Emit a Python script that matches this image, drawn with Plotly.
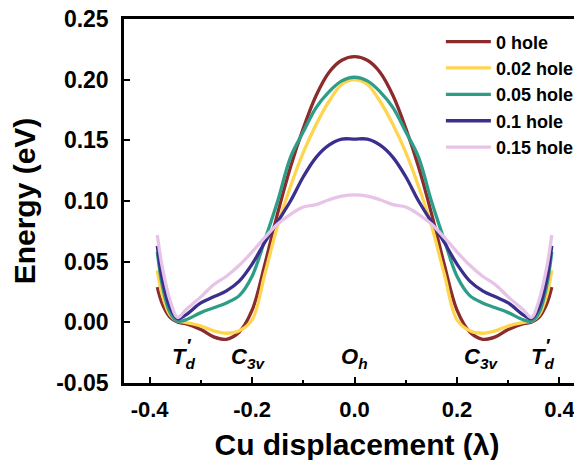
import plotly.graph_objects as go

# x positions (left half, mirrored to the right)
x_half = [-0.385, -0.375, -0.36, -0.345, -0.33, -0.30, -0.275, -0.25, -0.225, -0.20,
          -0.175, -0.15, -0.125, -0.10, -0.075, -0.05, -0.025, 0.0]

e_0 = [0.029, 0.015, 0.004, 0.000, -0.001, -0.006, -0.012, -0.014, -0.008, 0.010,
       0.048, 0.090, 0.128, 0.160, 0.187, 0.206, 0.216, 0.219]
e_002 = [0.043, 0.022, 0.006, 0.001, 0.000, -0.003, -0.007, -0.009, -0.007, 0.002,
         0.040, 0.080, 0.112, 0.140, 0.163, 0.182, 0.196, 0.200]
e_005 = [0.058, 0.030, 0.008, 0.001, 0.002, 0.008, 0.012, 0.016, 0.022, 0.038,
         0.068, 0.100, 0.136, 0.157, 0.177, 0.190, 0.199, 0.202]
e_01 = [0.063, 0.035, 0.012, 0.003, 0.006, 0.016, 0.021, 0.026, 0.034, 0.048,
        0.066, 0.083, 0.100, 0.120, 0.136, 0.146, 0.151, 0.151]
e_015 = [0.072, 0.045, 0.018, 0.004, 0.010, 0.021, 0.031, 0.038, 0.047, 0.058,
         0.070, 0.081, 0.089, 0.095, 0.097, 0.101, 0.104, 0.105]

names = ["0 hole", "0.02 hole", "0.05 hole", "0.1 hole", "0.15 hole"]
colors = ["#8B2C2C", "#FFD44F", "#2E9D88", "#3A2F8C", "#E8C3E8"]
series = [e_0, e_002, e_005, e_01, e_015]

# site labels
site_x = [-0.333, -0.207, 0.0, 0.247, 0.367]
site_main = ["T", "C", "O", "C", "T"]
site_sub = ["d", "3v", "h", "3v", "d"]
site_prime = [True, False, False, False, True]
site_y = -0.029

def full(xs, ys):
    xr = [-v for v in reversed(xs[:-1])]
    yr = list(reversed(ys[:-1]))
    return xs + xr, ys + yr

fig = go.Figure()
for nm, c, ys in zip(names, colors, series):
    xx, yy = full(x_half, ys)
    fig.add_trace(go.Scatter(x=xx, y=yy, mode="lines", name=f"<b>{nm}</b>",
                             line=dict(color=c, width=3.3, shape="spline", smoothing=1.0)))

font_family = "Liberation Sans, Arial, sans-serif"
for sx, m, s, p in zip(site_x, site_main, site_sub, site_prime):
    fig.add_annotation(x=sx, y=site_y, xref="x", yref="y", showarrow=False,
                       text=f"<b><i>{m}</i></b><sub><b><i>{s}</i></b></sub>",
                       font=dict(family=font_family, size=22, color="black"))
    if p:
        fig.add_annotation(x=sx, y=site_y, xref="x", yref="y", showarrow=False,
                           text="<b>′</b>", xshift=6, yshift=12,
                           font=dict(family=font_family, size=19, color="black"))

fig.update_layout(
    width=582, height=460,
    margin=dict(l=116, r=0, t=11, b=85),
    plot_bgcolor="white", paper_bgcolor="white",
    font=dict(family=font_family, color="black"),
    showlegend=True,
    legend=dict(x=0.680, y=0.988, xanchor="left", yanchor="top",
                bgcolor="rgba(0,0,0,0)", font=dict(size=18, family=font_family),
                itemwidth=45, tracegroupgap=0),
)
fig.update_xaxes(range=[-0.45, 0.4596], tickvals=[-0.4, -0.2, 0.0, 0.2, 0.4],
                 ticktext=["<b>-0.4</b>", "<b>-0.2</b>", "<b>0.0</b>", "<b>0.2</b>", "<b>0.4</b>"],
                 ticks="inside", ticklen=6, tickwidth=2, tickcolor="black",
                 minor=dict(tickvals=[-0.3, -0.1, 0.1, 0.3], ticks="inside", ticklen=3,
                            tickwidth=2, tickcolor="black"),
                 showline=True, linewidth=2.5, linecolor="black", mirror=True,
                 showgrid=False, zeroline=False, automargin=False,
                 ticklabelstandoff=5, ticklabeloverflow="allow",
                 tickfont=dict(size=22, family=font_family),
                 title=dict(text="<b>Cu displacement (λ)</b>", font=dict(size=30), standoff=13))
fig.update_yaxes(range=[-0.05, 0.25], tickvals=[-0.05, 0.0, 0.05, 0.10, 0.15, 0.20, 0.25],
                 ticktext=["<b>-0.05</b>", "<b>0.00</b>", "<b>0.05</b>", "<b>0.10</b>",
                           "<b>0.15</b>", "<b>0.20</b>", "<b>0.25</b>"],
                 ticks="inside", ticklen=6, tickwidth=2, tickcolor="black",
                 showline=True, linewidth=2.5, linecolor="black", mirror=False,
                 showgrid=False, zeroline=False, automargin=False,
                 ticklabelstandoff=8, ticklabeloverflow="allow",
                 tickfont=dict(size=23, family=font_family),
                 title=dict(text="<b>Energy (eV)</b>", font=dict(size=30), standoff=12))

fig.write_html("out.html")
